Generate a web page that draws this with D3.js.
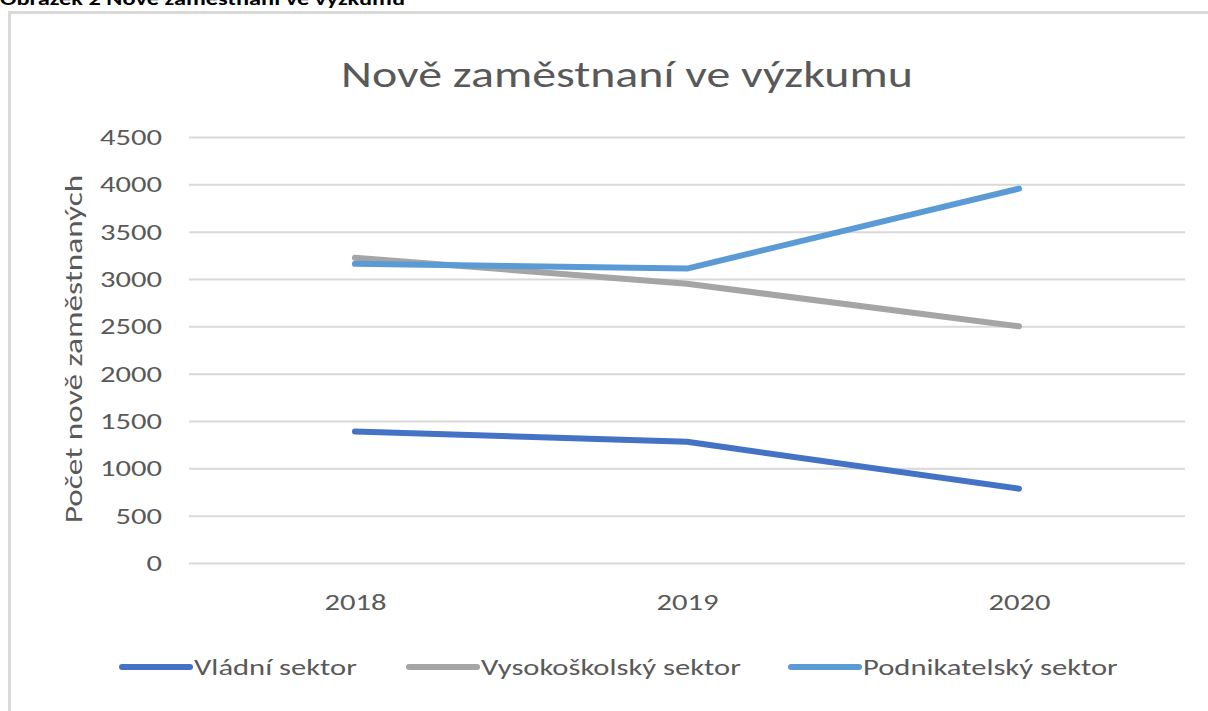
<!DOCTYPE html>
<html>
<head>
<meta charset="utf-8">
<script src="https://cdn.jsdelivr.net/npm/d3@7"></script>
<style>
    body { margin: 0; background: #fff; }
    svg { display: block; font-family: Calibri, Carlito, Lato, sans-serif; }
</style>
</head>
<body>
<script>
// data
var years = ["2018", "2019", "2020"];
var vladni = [1390, 1280, 785];
var vysokoskolsky = [3225, 2950, 2500];
var podnikatelsky = [3160, 3110, 3955];
var seriesNames = ["Vládní sektor", "Vysokoškolský sektor", "Podnikatelský sektor"];
var seriesColors = ["#4472C4", "#A5A5A5", "#5B9BD5"];
var yTicks = [0, 500, 1000, 1500, 2000, 2500, 3000, 3500, 4000, 4500];

var w = 1208, h = 711;
var stretch = 1.33; // the reference glyphs are wide, stretch text horizontally

var svg = d3.select("body").append("svg")
    .attr("width", w)
    .attr("height", h);

function widen(sel) {
    sel.each(function() {
        var len = this.getComputedTextLength();
        d3.select(this)
            .attr("textLength", len * stretch)
            .attr("lengthAdjust", "spacingAndGlyphs");
    });
}

// caption above the frame (cut off at the top, as in the source)
svg.append("text")
    .attr("x", 0)
    .attr("y", 5)
    .attr("font-weight", "bold")
    .attr("font-size", 18)
    .attr("fill", "#000")
    .attr("textLength", 405)
    .attr("lengthAdjust", "spacingAndGlyphs")
    .text("Obrázek 2 Nově zaměstnaní ve výzkumu");

// chart frame
svg.append("rect")
    .attr("x", 9.5).attr("y", 12.5)
    .attr("width", 1260).attr("height", 760)
    .attr("fill", "none")
    .attr("stroke", "#D9D9D9")
    .attr("stroke-width", 3);

// title
svg.append("text")
    .attr("x", 627)
    .attr("y", 87)
    .attr("text-anchor", "middle")
    .attr("font-size", 36)
    .attr("fill", "#595959")
    .text("Nově zaměstnaní ve výzkumu")
    .call(widen);

var x = d3.scalePoint().domain(years).range([189, 1185]).padding(0.5);
var y = d3.scaleLinear().domain([0, 4500]).range([563, 137]);

// gridlines
var grid = svg.append("g")
    .attr("transform", "translate(189,0)")
    .call(d3.axisLeft(y).tickValues(yTicks).tickSize(-996).tickFormat(""));
grid.select(".domain").remove();
grid.selectAll("line").attr("stroke", "#D9D9D9").attr("stroke-width", 2);

// y axis labels
var yAxis = svg.append("g")
    .attr("transform", "translate(189,0)")
    .call(d3.axisLeft(y).tickValues(yTicks).tickFormat(d3.format("d")).tickSize(0).tickPadding(27));
yAxis.select(".domain").remove();
yAxis.selectAll("text")
    .attr("font-size", 23)
    .attr("font-family", "Calibri, Carlito, Lato, sans-serif")
    .attr("fill", "#595959")
    .call(widen);

// x axis labels
var xAxis = svg.append("g")
    .attr("transform", "translate(0,563)")
    .call(d3.axisBottom(x).tickSize(0).tickPadding(31));
xAxis.select(".domain").remove();
xAxis.selectAll("text")
    .attr("font-size", 23)
    .attr("font-family", "Calibri, Carlito, Lato, sans-serif")
    .attr("fill", "#595959")
    .call(widen);

// y axis title
svg.append("text")
    .attr("transform", "translate(82,349) rotate(-90)")
    .attr("text-anchor", "middle")
    .attr("font-size", 25)
    .attr("fill", "#595959")
    .text("Počet nově zaměstnaných")
    .call(widen);

// lines
var series = [vladni, vysokoskolsky, podnikatelsky];
var line = d3.line()
    .x(function(d, i) { return x(years[i]); })
    .y(function(d) { return y(d); });

svg.selectAll(".line")
    .data(series)
    .enter()
    .append("path")
    .attr("class", "line")
    .attr("d", line)
    .attr("fill", "none")
    .attr("stroke", function(d, i) { return seriesColors[i]; })
    .attr("stroke-width", 6)
    .attr("stroke-linecap", "round")
    .attr("stroke-linejoin", "round");

// legend
var legendX = [122, 409, 791];
var legend = svg.selectAll(".legend")
    .data(seriesNames)
    .enter()
    .append("g")
    .attr("class", "legend")
    .attr("transform", function(d, i) { return "translate(" + legendX[i] + ",667)"; });

legend.append("line")
    .attr("x1", 0).attr("x2", 68)
    .attr("stroke", function(d, i) { return seriesColors[i]; })
    .attr("stroke-width", 6)
    .attr("stroke-linecap", "round");

legend.append("text")
    .attr("x", 72)
    .attr("dy", "0.35em")
    .attr("font-size", 23)
    .attr("fill", "#595959")
    .text(function(d) { return d; })
    .call(widen);
</script>
</body>
</html>
